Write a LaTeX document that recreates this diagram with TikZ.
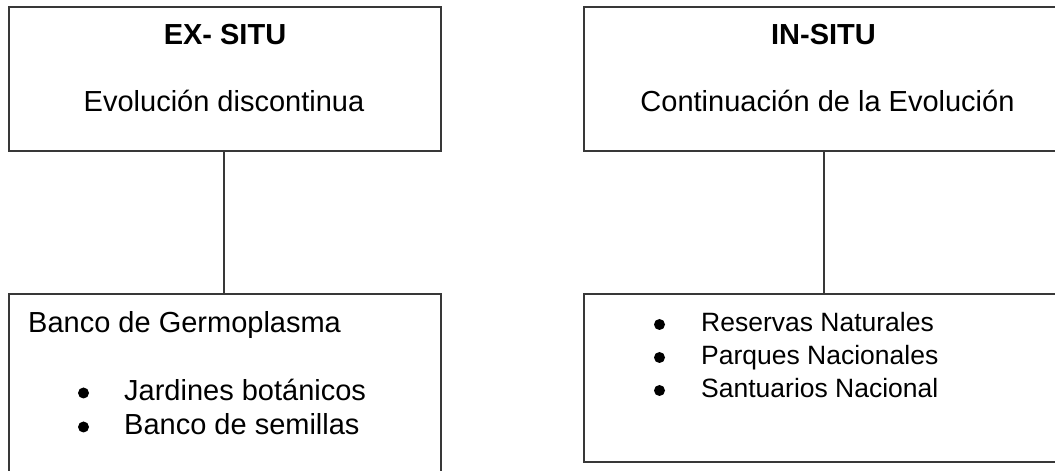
\documentclass[tikz,border=0pt]{standalone}
\usepackage{fontspec}
\setmainfont{Liberation Sans}
\begin{document}
\begin{tikzpicture}[x=1pt,y=1pt,
  frame/.style={draw=black!78, line width=2pt, fill=white, inner sep=0pt, anchor=center},
  conn/.style={draw=black!78, line width=2pt},
  dot/.style={circle, fill=black, inner sep=0pt, minimum size=11pt},
  big/.style={inner sep=0pt, font=\fontsize{29}{34}\selectfont},
  small/.style={inner sep=0pt, font=\fontsize{26.5}{32}\selectfont}]
\useasboundingbox (0,0) rectangle (1055,471);
\fill[white] (0,0) rectangle (1055,471);
% boxes
\node[frame, minimum width=432pt, minimum height=144pt] (ltop) at (225,392) {};
\node[frame, minimum width=432pt, minimum height=186pt] (lbot) at (225,84) {};
\node[frame, minimum width=486pt, minimum height=144pt] (rtop) at (827,392) {};
\node[frame, minimum width=486pt, minimum height=168pt] (rbot) at (827,93) {};
% connectors
\coordinate (lx) at (224,0);
\coordinate (rx) at (824,0);
\draw[conn] (ltop.south -| lx) -- (lbot.north -| lx);
\draw[conn] (rtop.south -| rx) -- (rbot.north -| rx);
% texts left
\node[big, anchor=base, font=\fontsize{29}{34}\bfseries] (t1) at (225,426) {EX- SITU};
\node[big, anchor=base] (t2) at (224,359) {Evolución discontinua};
\node[big, anchor=base west] (t3) at (28,138) {Banco de Germoplasma};
\node[dot] (b1) at (83.5,78) {};
\node[big, anchor=base west] (t4) at (124,70) {Jardines botánicos};
\node[dot] (b2) at (83.5,44) {};
\node[big, anchor=base west] (t5) at (124,36) {Banco de semillas};
% texts right
\node[big, anchor=base, font=\fontsize{29}{34}\bfseries] (t6) at (823.5,426) {IN-SITU};
\node[big, anchor=base] (t7) at (827.5,359) {Continuación de la Evolución};
\node[dot] (b3) at (659.5,146.5) {};
\node[small, anchor=base west] (t8) at (701,139) {Reservas Naturales};
\node[dot] (b4) at (659.5,113.5) {};
\node[small, anchor=base west] (t9) at (701,106) {Parques Nacionales};
\node[dot] (b5) at (659.5,80.5) {};
\node[small, anchor=base west] (t10) at (701,73) {Santuarios Nacional};
\end{tikzpicture}
\end{document}
